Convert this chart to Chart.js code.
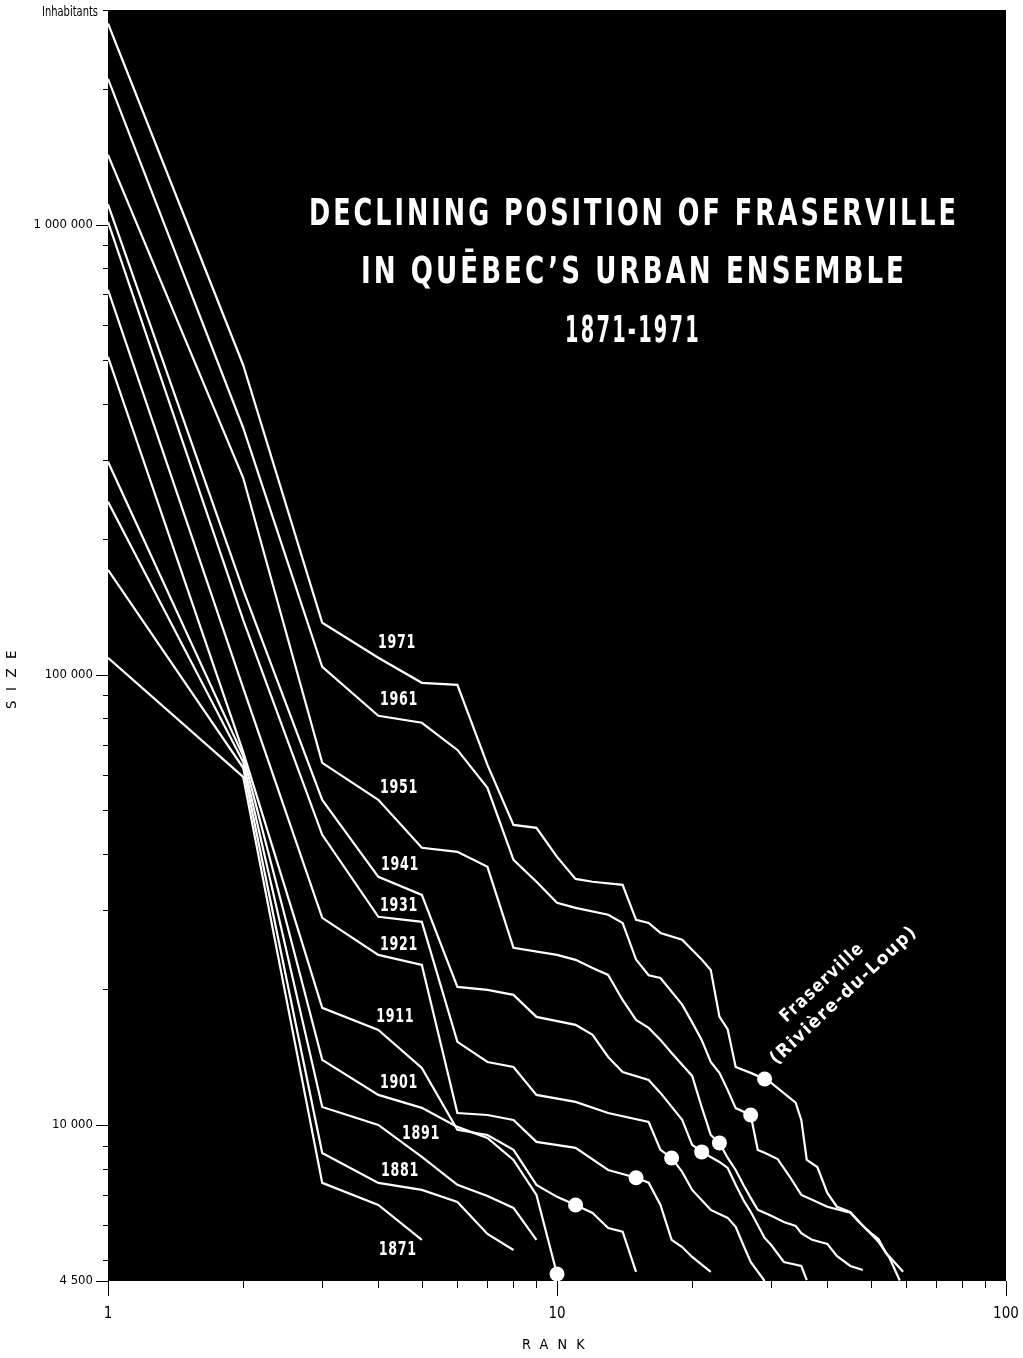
<!DOCTYPE html>
<html>
<head>
<meta charset="utf-8">
<title>Declining position of Fraserville</title>
<script src="https://cdn.jsdelivr.net/npm/chart.js@4.4.0/dist/chart.umd.min.js"></script>
<style>
  html, body { margin: 0; padding: 0; background: #fff; }
  canvas { display: block; }
</style>
</head>
<body>
<canvas id="rankChart" width="1023" height="1358"></canvas>
<script>
// rank / population pairs, one list per census year
const years = ['1871', '1881', '1891', '1901', '1911', '1921', '1931', '1941', '1951', '1961', '1971'];

const y1871 = [[1, 109100], [2, 59340], [3, 7435], [4, 6640], [5, 5555]];
const y1881 = [[1, 171100], [2, 62150], [3, 8665], [4, 7435], [5, 7170], [6, 6745], [7, 5725], [8, 5275]];
const y1891 = [[1, 242300], [2, 64080], [3, 10960], [4, 10000], [5, 8490], [6, 7360], [7, 6955], [8, 6540], [9, 5555]];
const y1901 = [[1, 297400], [2, 66070], [3, 13950], [4, 11660], [5, 10910], [6, 9900], [7, 9360], [8, 8360], [9, 6990], [10, 4665]];
const y1911 = [[1, 508800], [2, 67450], [3, 18200], [4, 16260], [5, 13390], [6, 9750], [7, 9500], [8, 8800], [9, 7360],
  [10, 6920], [11, 6640], [12, 6375], [13, 5900], [14, 5790], [15, 4715]];
const y1921 = [[1, 717000], [2, 93560], [3, 28840], [4, 23870], [5, 22670], [6, 10630], [7, 10520], [8, 10260], [9, 9170],
  [11, 8890], [13, 7940], [14, 7780], [15, 7630], [16, 7440], [17, 6640], [18, 5555], [19, 5355], [20, 5090], [22, 4715]];
const y1931 = [[1, 1015000], [2, 132500], [3, 44100], [4, 29000], [5, 28260], [6, 15290], [7, 13800], [8, 13450], [9, 11660],
  [11, 11250], [13, 10630], [16, 10150], [17, 8800], [18, 8445], [19, 7865], [20, 7170], [22, 6475], [24, 6215],
  [25, 5935], [26, 5410], [27, 4960], [29, 4500]];
const y1941 = [[1, 1110000], [2, 154500], [3, 52750], [4, 35570], [5, 32440], [6, 20260], [7, 19950], [8, 19450], [9, 17380],
  [11, 16680], [12, 15850], [13, 14160], [14, 13110], [16, 12590], [17, 11780], [19, 10260], [20, 9030], [21, 8710],
  [23, 8275], [24, 8025], [25, 7360], [26, 6815], [27, 6410], [29, 5610], [30, 5410], [32, 4960], [35, 4860], [36, 4520]];
const y1951 = [[1, 1430000], [2, 274000], [3, 63750], [4, 52750], [5, 41270], [6, 40430], [7, 37440], [8, 24740], [10, 23870],
  [11, 23270], [12, 22330], [13, 21540], [14, 18950], [15, 17110], [16, 16430], [17, 15450], [18, 14450], [20, 12850],
  [21, 10960], [22, 9500], [23, 9120], [24, 8445], [25, 7940], [26, 7360], [27, 6885], [28, 6475], [30, 6280],
  [32, 6085], [34, 5965], [35, 5750], [37, 5555], [40, 5440], [42, 5115], [45, 4860], [48, 4760]];
const y1961 = [[1, 2110000], [2, 354000], [3, 104200], [4, 81100], [5, 78250], [6, 68100], [7, 56100], [8, 38800], [9, 34700],
  [10, 31150], [11, 30350], [13, 29300], [14, 28100], [15, 23300], [16, 21500], [17, 21200], [19, 18500], [20, 16900],
  [21, 15450], [22, 13800], [23, 13050], [24, 11950], [25, 10900], [27, 10520], [28, 8800], [29, 8670], [31, 8400],
  [33, 7670], [35, 6990], [37, 6820], [40, 6580], [45, 6380], [47, 6090], [50, 5730], [52, 5500], [55, 5070], [58, 4510]];
const y1971 = [[1, 2800000], [2, 488000], [3, 130500], [4, 109100], [5, 96000], [6, 95000], [7, 63100], [8, 46400], [9, 45700],
  [10, 39400], [11, 35200], [12, 34700], [14, 34150], [15, 28550], [16, 28100], [17, 26700], [19, 25800], [21, 23300],
  [22, 22100], [23, 17400], [24, 16300], [25, 13450], [27, 13050], [29, 12650], [30, 12400], [34, 11200], [35, 10260],
  [36, 8360], [38, 8060], [40, 7060], [42, 6580], [45, 6410], [48, 5970], [50, 5750], [52, 5580], [54, 5200], [59, 4720]];

const yearSeries = [y1871, y1881, y1891, y1901, y1911, y1921, y1931, y1941, y1951, y1961, y1971];

// Fraserville (Riviere-du-Loup), 1901 to 1971
const fraservilleRank = [10, 11, 15, 18, 21, 23, 27, 29];
const fraservillePop = [4665, 6640, 7630, 8445, 8710, 9120, 10520, 12650];

// where each year label sits, in rank / population units
const yearLabelAt = [[4.42, 5275], [4.47, 7905], [4.98, 9550], [4.45, 12400], [4.36, 17380], [4.45, 25120],
  [4.45, 30670], [4.47, 37830], [4.45, 56100], [4.45, 88000], [4.4, 117800]];

const yLabels = { 4500: '4 500', 10000: '10 000', 100000: '100 000', 1000000: '1 000 000' };
const xLabels = { 1: '1', 10: '10', 100: '100' };

const yTickValues = [4500];
for (let e = 3; e <= 6; e++) {
  for (let m = 1; m <= 9; m++) {
    const v = m * Math.pow(10, e);
    if (v >= 5000 && v <= 3000000) yTickValues.push(v);
  }
}
const xTickValues = [];
for (let e = 0; e <= 1; e++) {
  for (let m = 1; m <= 9; m++) xTickValues.push(m * Math.pow(10, e));
}
xTickValues.push(100);

const NARROW = "'Liberation Sans Narrow', 'Arial Narrow', 'DejaVu Sans Condensed', sans-serif";

function fitText(ctx, text, cx, cy, width) {
  const w = ctx.measureText(text).width;
  ctx.save();
  ctx.translate(cx, cy);
  ctx.scale(width / w, 1);
  ctx.fillText(text, 0, 0);
  ctx.restore();
}

function noPad(s) {
  s.paddingTop = 0;
  s.paddingBottom = 0;
  s.paddingLeft = 0;
  s.paddingRight = 0;
}

const decor = {
  id: 'decor',
  beforeDraw(chart) {
    const { ctx, chartArea: a } = chart;
    ctx.save();
    ctx.fillStyle = '#000';
    ctx.fillRect(a.left, a.top, a.right - a.left, a.bottom - a.top);
    ctx.restore();
  },
  afterDraw(chart) {
    const { ctx, chartArea: a, scales: { x, y } } = chart;
    ctx.save();

    // tick marks outside the frame
    ctx.strokeStyle = '#000';
    ctx.lineWidth = 1;
    yTickValues.forEach(v => {
      const py = Math.round(y.getPixelForValue(v)) + 0.5;
      const len = yLabels[v] ? 12 : 5;
      ctx.beginPath();
      ctx.moveTo(a.left - len, py);
      ctx.lineTo(a.left, py);
      ctx.stroke();
    });
    xTickValues.forEach(v => {
      const px = Math.round(x.getPixelForValue(v)) + 0.5;
      const len = xLabels[v] ? 15 : 7;
      ctx.beginPath();
      ctx.moveTo(px, a.bottom);
      ctx.lineTo(px, a.bottom + len);
      ctx.stroke();
    });

    // axis captions
    ctx.fillStyle = '#000';
    ctx.textAlign = 'center';
    ctx.textBaseline = 'middle';
    ctx.font = '14px ' + NARROW;
    fitText(ctx, 'Inhabitants', 70, 12, 56);
    ctx.letterSpacing = '9px';
    fitText(ctx, 'RANK', 558, 1345, 72);
    ctx.save();
    ctx.translate(12, 675);
    ctx.rotate(-Math.PI / 2);
    fitText(ctx, 'SIZE', 0, 0, 68);
    ctx.restore();

    // title
    ctx.fillStyle = '#fff';
    ctx.textBaseline = 'alphabetic';
    ctx.font = 'bold 38px ' + NARROW;
    ctx.letterSpacing = '4px';
    fitText(ctx, 'DECLINING POSITION OF FRASERVILLE', 634, 225, 650);
    fitText(ctx, 'IN QUĒBEC\u2019S URBAN ENSEMBLE', 634, 283, 546);
    fitText(ctx, '1871-1971', 633, 342, 136);

    // year labels
    ctx.textBaseline = 'middle';
    ctx.font = 'bold 20px ' + NARROW;
    ctx.letterSpacing = '1px';
    yearLabelAt.forEach(([r, p], i) => {
      fitText(ctx, years[i], x.getPixelForValue(r), y.getPixelForValue(p), 38);
    });

    // Fraserville caption
    ctx.save();
    ctx.translate(x.getPixelForValue(29), y.getPixelForValue(12650));
    ctx.rotate(-43 * Math.PI / 180);
    ctx.font = 'bold 18px ' + NARROW;
    ctx.letterSpacing = '1.5px';
    fitText(ctx, 'Fraserville', 108, -31, 108);
    fitText(ctx, '(Rivière-du-Loup)', 115, -7, 194);
    ctx.restore();

    ctx.restore();
  }
};

const datasets = yearSeries.map((pts, i) => ({
  type: 'line',
  label: years[i],
  data: pts.map(([r, p]) => ({ x: r, y: p })),
  borderColor: '#fff',
  borderWidth: 2.2,
  pointRadius: 0,
  fill: false,
  tension: 0
}));

datasets.push({
  type: 'scatter',
  label: 'Fraserville',
  data: fraservilleRank.map((r, i) => ({ x: r, y: fraservillePop[i] })),
  pointRadius: 7.5,
  pointBackgroundColor: '#fff',
  pointBorderWidth: 0,
  clip: false
});

const ctx = document.getElementById('rankChart').getContext('2d');

const rankChart = new Chart(ctx, {
  type: 'line',
  data: { datasets: datasets },
  options: {
    responsive: false,
    animation: false,
    devicePixelRatio: 1,
    layout: { padding: { top: 10, right: 17, left: 0, bottom: 0 } },
    plugins: {
      legend: { display: false },
      tooltip: { enabled: false }
    },
    scales: {
      x: {
        type: 'logarithmic',
        min: 1,
        max: 100,
        afterBuildTicks: s => { s.ticks = xTickValues.map(v => ({ value: v })); },
        afterFit: s => { s.height = 77; noPad(s); },
        grid: { display: false, drawTicks: false },
        border: { display: false },
        ticks: {
          autoSkip: false,
          maxRotation: 0,
          padding: 24,
          color: '#000',
          font: { family: NARROW, size: 15 },
          callback: v => xLabels[v] || ''
        }
      },
      y: {
        type: 'logarithmic',
        min: 4500,
        max: 3000000,
        afterBuildTicks: s => { s.ticks = yTickValues.map(v => ({ value: v })); },
        afterFit: s => { s.width = 108; noPad(s); },
        grid: { display: false, drawTicks: false },
        border: { display: false },
        ticks: {
          autoSkip: false,
          padding: 15,
          color: '#000',
          font: { family: NARROW, size: 13 },
          callback: v => yLabels[v] || ''
        }
      }
    }
  },
  plugins: [decor]
});
</script>
</body>
</html>
